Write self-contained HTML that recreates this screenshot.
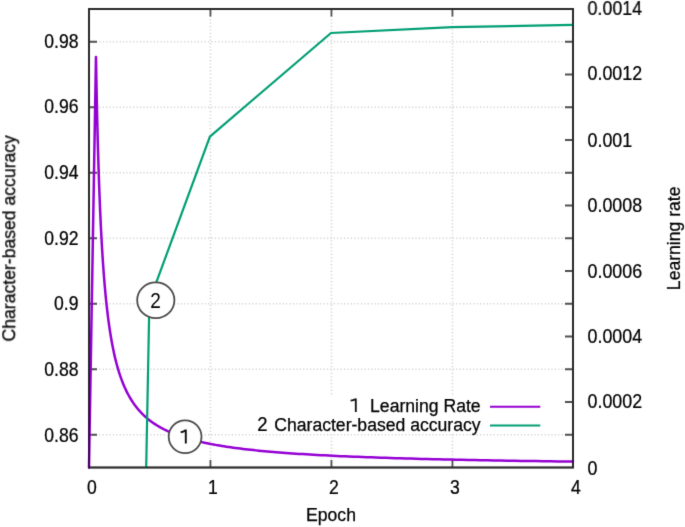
<!DOCTYPE html>
<html><head><meta charset="utf-8"><style>
html,body{margin:0;padding:0;background:#fff;}
svg{display:block;will-change:transform;font-family:"Liberation Sans",sans-serif;}
</style></head><body>
<svg width="685" height="527" viewBox="0 0 685 527">
<defs><filter id="bl" color-interpolation-filters="sRGB" filterUnits="userSpaceOnUse" x="0" y="0" width="685" height="527"><feConvolveMatrix order="3" kernelMatrix="0.01134 0.08382 0.01134 0.08382 0.61935 0.08382 0.01134 0.08382 0.01134" edgeMode="duplicate" preserveAlpha="true"/></filter></defs>
<g filter="url(#bl)">
<rect width="685" height="527" fill="#fff"/>
<path d="M89.0 434.75H573.0 M89.0 369.25H573.0 M89.0 303.75H573.0 M89.0 238.25H573.0 M89.0 172.75H573.0 M89.0 107.25H573.0 M89.0 41.75H573.0 M210.45 9.0V467.5 M331.45 9.0V467.5 M452.45 9.0V467.5" stroke="#d4d4d4" stroke-width="1.6" stroke-dasharray="1.2 2.2" fill="none"/>
<path d="M89.0 434.75h8 M573.0 434.75h-8 M89.0 369.25h8 M573.0 369.25h-8 M89.0 303.75h8 M573.0 303.75h-8 M89.0 238.25h8 M573.0 238.25h-8 M89.0 172.75h8 M573.0 172.75h-8 M89.0 107.25h8 M573.0 107.25h-8 M89.0 41.75h8 M573.0 41.75h-8 M573.0 402.00h-8 M573.0 336.50h-8 M573.0 271.00h-8 M573.0 205.50h-8 M573.0 140.00h-8 M573.0 74.50h-8 M210.45 467.5v-7.5 M210.45 9.0v7.5 M331.45 467.5v-7.5 M331.45 9.0v7.5 M452.45 467.5v-7.5 M452.45 9.0v7.5" stroke="#505050" stroke-width="1.8" fill="none"/>
<rect x="89.0" y="9.0" width="484.0" height="458.5" fill="none" stroke="#5d5d5d" stroke-width="2"/>
<defs><clipPath id="c"><rect x="0" y="0" width="685" height="468.1"/></clipPath></defs>
<g fill="none" stroke-width="2.2" stroke-linejoin="round" stroke-linecap="round">
<polyline points="89.00,467.50 95.97,56.99 96.57,89.53 97.17,117.29 97.77,141.25 98.37,162.14 98.97,180.52 99.57,196.81 100.17,211.35 100.77,224.41 101.37,236.20 101.97,246.90 102.57,256.65 103.17,265.58 103.77,273.78 104.37,281.35 104.97,288.34 105.57,294.83 106.17,300.86 106.77,306.49 107.37,311.75 107.97,316.67 108.57,321.30 109.17,325.65 109.77,329.75 110.37,333.61 110.97,337.27 111.57,340.73 112.17,344.01 112.77,347.13 113.37,350.10 113.97,352.92 114.57,355.61 115.17,358.17 115.77,360.62 116.37,362.96 116.97,365.21 117.57,367.35 118.17,369.41 118.77,371.39 119.37,373.29 119.97,375.12 120.57,376.87 121.17,378.56 121.77,380.19 122.37,381.76 122.97,383.27 123.57,384.74 124.17,386.15 124.77,387.51 125.37,388.83 125.97,390.11 126.58,391.37 127.20,392.61 127.83,393.83 128.48,395.02 129.13,396.20 129.79,397.36 130.47,398.50 131.15,399.62 131.85,400.73 132.56,401.81 133.28,402.88 134.01,403.93 134.75,404.97 135.51,405.98 136.28,406.98 137.06,407.97 137.85,408.93 138.66,409.89 139.48,410.82 140.32,411.75 141.16,412.65 142.03,413.54 142.90,414.42 143.79,415.28 144.70,416.13 145.62,416.97 146.56,417.79 147.51,418.60 148.47,419.39 149.46,420.18 150.46,420.95 151.47,421.70 152.51,422.45 153.55,423.18 154.62,423.90 155.71,424.61 156.81,425.31 157.93,425.99 159.07,426.67 160.23,427.33 161.40,427.98 162.60,428.63 163.82,429.26 165.05,429.88 166.31,430.49 167.59,431.09 168.89,431.69 170.21,432.27 171.55,432.84 172.92,433.41 174.30,433.96 175.71,434.50 177.15,435.04 178.60,435.57 180.08,436.09 181.59,436.60 183.12,437.10 184.68,437.60 186.26,438.08 187.87,438.56 189.50,439.03 191.16,439.49 192.85,439.95 194.57,440.40 196.31,440.84 198.08,441.27 199.89,441.70 201.72,442.12 203.58,442.53 205.48,442.94 207.40,443.34 209.36,443.73 211.35,444.12 213.37,444.50 215.43,444.87 217.52,445.24 219.64,445.60 221.80,445.96 224.00,446.31 226.23,446.65 228.49,446.99 230.80,447.32 233.14,447.65 235.53,447.97 237.95,448.29 240.41,448.60 242.91,448.91 245.46,449.21 248.04,449.51 250.67,449.80 253.34,450.09 256.06,450.37 258.82,450.65 261.63,450.93 264.48,451.20 267.38,451.46 270.33,451.72 273.33,451.98 276.38,452.23 279.47,452.48 282.62,452.72 285.82,452.96 289.07,453.20 292.38,453.43 295.74,453.66 299.16,453.89 302.63,454.11 306.17,454.33 309.75,454.54 313.40,454.75 317.11,454.96 320.88,455.16 324.72,455.36 328.61,455.56 332.57,455.75 336.60,455.94 340.69,456.13 344.85,456.32 349.08,456.50 353.38,456.68 357.75,456.85 362.19,457.03 366.71,457.20 371.30,457.36 375.96,457.53 380.71,457.69 385.53,457.85 390.43,458.01 395.41,458.16 400.48,458.31 405.62,458.46 410.86,458.61 416.18,458.76 421.59,458.90 427.08,459.04 432.67,459.17 438.35,459.31 444.13,459.44 450.00,459.57 455.96,459.70 462.03,459.83 468.19,459.95 474.46,460.08 480.83,460.20 487.31,460.32 493.89,460.43 500.59,460.55 507.39,460.66 514.30,460.77 521.33,460.88 528.48,460.99 535.74,461.10 543.13,461.20 550.63,461.30 558.26,461.40 566.02,461.50 573.00,461.59" stroke="#9400d3" stroke-width="2.5"/>
<polyline points="149.40,301.20 209.90,136.60 331.00,33.00 452.30,27.20 573.00,24.80" stroke="#009e73"/>
</g>
<polyline clip-path="url(#c)" fill="none" stroke-width="2.2" points="145.19,520.00 149.40,301.20" stroke="#009e73"/>
<rect x="89.0" y="9.0" width="484.0" height="458.5" fill="none" stroke="#000" stroke-opacity="0.55" stroke-width="2"/>
<rect x="250" y="396.5" width="300" height="37.3" fill="#fff"/>
<g fill="#000" stroke="#000" stroke-width="0.25"><text transform="translate(78.50,442.00) scale(0.8929,1)" text-anchor="end" font-size="19.71">0.86</text><text transform="translate(78.50,375.65) scale(0.8929,1)" text-anchor="end" font-size="19.71">0.88</text><text transform="translate(78.50,310.15) scale(0.8929,1)" text-anchor="end" font-size="19.71">0.9</text><text transform="translate(78.50,244.95) scale(0.8929,1)" text-anchor="end" font-size="19.71">0.92</text><text transform="translate(78.50,179.45) scale(0.8929,1)" text-anchor="end" font-size="19.71">0.94</text><text transform="translate(78.50,112.95) scale(0.8929,1)" text-anchor="end" font-size="19.71">0.96</text><text transform="translate(78.50,47.80) scale(0.8929,1)" text-anchor="end" font-size="19.71">0.98</text><text transform="translate(587.50,474.80) scale(0.9062,1)" text-anchor="start" font-size="19.71">0</text><text transform="translate(587.50,408.00) scale(0.9062,1)" text-anchor="start" font-size="19.71">0.0002</text><text transform="translate(587.50,342.80) scale(0.9062,1)" text-anchor="start" font-size="19.71">0.0004</text><text transform="translate(587.50,277.80) scale(0.9062,1)" text-anchor="start" font-size="19.71">0.0006</text><text transform="translate(587.50,212.00) scale(0.9062,1)" text-anchor="start" font-size="19.71">0.0008</text><text transform="translate(587.50,146.90) scale(0.9062,1)" text-anchor="start" font-size="19.71">0.001</text><text transform="translate(587.50,80.20) scale(0.9062,1)" text-anchor="start" font-size="19.71">0.0012</text><text transform="translate(587.50,15.00) scale(0.9062,1)" text-anchor="start" font-size="19.71">0.0014</text><text transform="translate(91.80,493.60) scale(0.8929,1)" text-anchor="middle" font-size="19.71">0</text><text transform="translate(212.80,493.60) scale(0.8929,1)" text-anchor="middle" font-size="19.71">1</text><text transform="translate(333.80,493.60) scale(0.8929,1)" text-anchor="middle" font-size="19.71">2</text><text transform="translate(454.80,493.60) scale(0.8929,1)" text-anchor="middle" font-size="19.71">3</text><text transform="translate(575.80,493.60) scale(0.8929,1)" text-anchor="middle" font-size="19.71">4</text><text x="331.00" y="521.20" text-anchor="middle" font-size="17.60">Epoch</text><text transform="translate(15.2,238.3) rotate(-90)" text-anchor="middle" font-size="17.60">Character-based accuracy</text><text transform="translate(680,238.3) rotate(-90)" text-anchor="middle" font-size="17.60">Learning rate</text><text x="480.60" y="412.10" text-anchor="end" font-size="17.60">Learning Rate</text><text x="480.60" y="431.10" text-anchor="end" font-size="17.60">Character-based accuracy</text><text transform="translate(262.50,431.30) scale(0.8850,1)" text-anchor="middle" font-size="20.90">2</text></g>
<path d="M490 406.7H540.3" stroke="#9400d3" stroke-width="2"/>
<path d="M490 425.6H540.3" stroke="#009e73" stroke-width="2"/>
<ellipse cx="155.8" cy="300.2" rx="18.6" ry="17.9" fill="#fff" stroke="#4a4a4a" stroke-width="1.8"/>
<text transform="translate(155.60,307.70) scale(0.8929,1)" text-anchor="middle" font-size="21.28">2</text>
<ellipse cx="185.1" cy="436.7" rx="16.4" ry="16.4" fill="#fff" stroke="#4a4a4a" stroke-width="1.8"/>
<path d="M185.8 429.6V443.6M185.8 429.9Q183.5 431.9 180.7 432.3" stroke="#111" stroke-width="1.95" fill="none"/>
<path d="M355.8 398.6V411.9M355.8 398.9Q353.5 400.4 350.6 400.6" stroke="#111" stroke-width="1.85" fill="none"/>
</g>
</svg>
</body></html>
